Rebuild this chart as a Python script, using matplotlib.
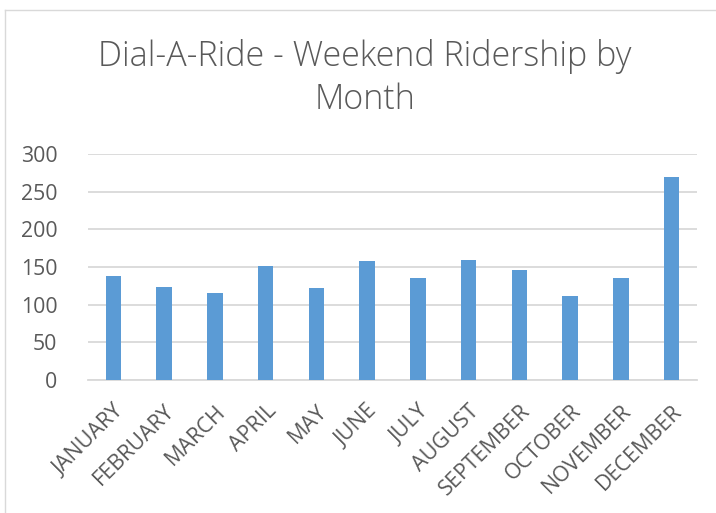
import matplotlib

matplotlib.use("Agg")
import matplotlib.pyplot as plt
from matplotlib.lines import Line2D

# --- Data ---
months = ['JANUARY', 'FEBRUARY', 'MARCH', 'APRIL', 'MAY', 'JUNE',
          'JULY', 'AUGUST', 'SEPTEMBER', 'OCTOBER', 'NOVEMBER', 'DECEMBER']
riders = [138, 123, 116, 151, 122, 158, 136, 159, 146, 112, 135, 269]
y_ticks = [0, 50, 100, 150, 200, 250, 300]

bar_color = '#5b9bd5'
text_color = '#595959'
grid_color = '#d9d9d9'

plt.rcParams['font.family'] = ['Open Sans', 'DejaVu Sans']

fig = plt.figure(figsize=(7.16, 5.13), dpi=100)
ax = fig.add_axes([88 / 716, 1 - 380 / 513, 609 / 716, 226 / 513])

x = list(range(len(months)))
ax.bar(x, riders, width=0.31, color=bar_color, zorder=3)

ax.set_xlim(-0.5, len(months) - 0.5)
ax.set_ylim(0, 300)
ax.set_yticks(y_ticks)
ax.set_xticks(x)
ax.tick_params(axis='y', labelsize=15.3, labelcolor=text_color, length=0, pad=22)
ax.tick_params(axis='x', length=0, pad=15)
ax.set_xticklabels(months, rotation=45, ha='right', va='top',
                   rotation_mode='anchor', fontsize=15.5, color=text_color)

ax.grid(axis='y', color=grid_color, linewidth=1.3, zorder=0)
ax.set_axisbelow(True)
for side in ['top', 'right', 'left']:
    ax.spines[side].set_visible(False)
ax.spines['bottom'].set_color(grid_color)
ax.spines['bottom'].set_linewidth(1.3)

fig.text(365 / 716, 1 - 78 / 513, 'Dial-A-Ride - Weekend Ridership by\nMonth',
         ha='center', va='center', fontsize=24.5, fontweight='light',
         color=text_color, linespacing=1.35)

# light chart-area border (left and top edges visible)
fig.add_artist(Line2D([5 / 716, 5 / 716], [0, 1 - 10 / 513],
                      transform=fig.transFigure, color=grid_color, linewidth=1))
fig.add_artist(Line2D([5 / 716, 1], [1 - 10 / 513, 1 - 10 / 513],
                      transform=fig.transFigure, color=grid_color, linewidth=1))

fig.savefig('out.png', dpi=100)
